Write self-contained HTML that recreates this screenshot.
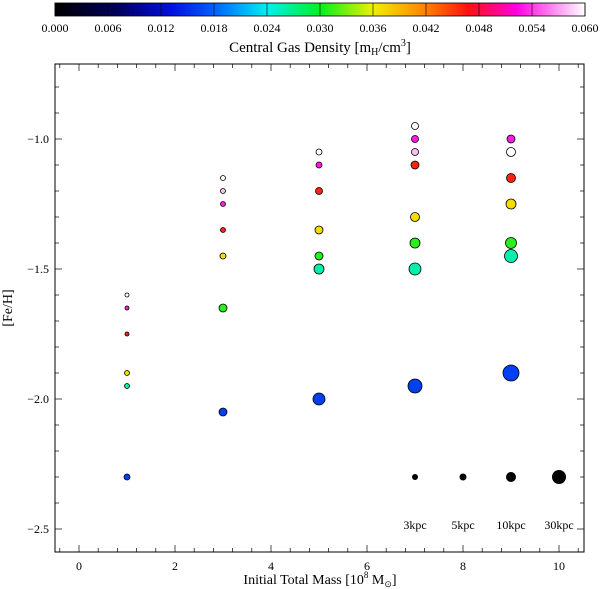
<!DOCTYPE html>
<html><head><meta charset="utf-8"><style>
body{margin:0;background:#fff;}
svg{display:block;font-family:"Liberation Serif",serif;}
</style></head><body>
<svg id="chart" width="600" height="589" viewBox="0 0 600 589" xmlns="http://www.w3.org/2000/svg">
<defs>
<linearGradient id="cg" x1="0" x2="1" y1="0" y2="0">
<stop offset="0" stop-color="#000000"/>
<stop offset="0.12" stop-color="#000060"/>
<stop offset="0.22" stop-color="#0010e0"/>
<stop offset="0.3" stop-color="#0060ff"/>
<stop offset="0.4" stop-color="#00f0f0"/>
<stop offset="0.5" stop-color="#00f020"/>
<stop offset="0.6" stop-color="#f0f000"/>
<stop offset="0.7" stop-color="#ff8000"/>
<stop offset="0.78" stop-color="#ff1010"/>
<stop offset="0.87" stop-color="#ff00e0"/>
<stop offset="1" stop-color="#ffffff"/>
</linearGradient>
</defs>
<g id="cbar"></g>
<g id="axes"></g>
<g id="marks"></g>
</svg>
<script>
const NS="http://www.w3.org/2000/svg";
const cbTicks=["0.000","0.006","0.012","0.018","0.024","0.030","0.036","0.042","0.048","0.054","0.060"];
const xTicks=[0,2,4,6,8,10];
const yTicks=[-1.0,-1.5,-2.0,-2.5];
const masses=[1,1,1,1,1,1, 3,3,3,3,3,3,3, 5,5,5,5,5,5,5, 7,7,7,7,7,7,7,7, 9,9,9,9,9,9,9];
const feh=[-1.6,-1.65,-1.75,-1.9,-1.95,-2.3, -1.15,-1.2,-1.25,-1.35,-1.45,-1.65,-2.05, -1.05,-1.1,-1.2,-1.35,-1.45,-1.5,-2.0, -0.95,-1.0,-1.05,-1.1,-1.3,-1.4,-1.5,-1.95, -1.0,-1.05,-1.15,-1.25,-1.4,-1.45,-1.9];
const density=[0.060,0.053,0.046,0.037,0.026,0.016, 0.060,0.058,0.053,0.046,0.037,0.031,0.016, 0.060,0.053,0.046,0.037,0.031,0.026,0.016, 0.060,0.053,0.058,0.046,0.037,0.031,0.026,0.016, 0.053,0.060,0.046,0.037,0.031,0.026,0.016];
const radii=[2,2,2,2.5,2.5,3, 2.5,2.5,2.5,2.5,3,4,4, 3,3,3.5,4,4,5,6, 3.5,3.5,3.5,4,4.5,5,6,7, 4,4.5,4.5,5,5.5,6.5,8];
const legendX=[7,8,9,10];
const legendR=[3,3.5,5,7];
const legendLabels=["3kpc","5kpc","10kpc","30kpc"];
const L=55,R=584,T=64,B=552;
const sx=v=>79+v*48;
const sy=v=>139+(-1.0-v)*260;
function mk(tag,attrs,parent){const e=document.createElementNS(NS,tag);for(const k in attrs)e.setAttribute(k,attrs[k]);parent.appendChild(e);return e;}
const stops=[[0,[0,0,0]],[0.12,[0,0,96]],[0.22,[0,16,224]],[0.3,[0,96,255]],[0.4,[0,240,240]],[0.5,[0,240,32]],[0.6,[240,240,0]],[0.7,[255,128,0]],[0.78,[255,16,16]],[0.87,[255,0,224]],[1,[255,255,255]]];
function cmap(d){const t=Math.max(0,Math.min(1,d/0.06));for(let i=1;i<stops.length;i++){if(t<=stops[i][0]){const a=stops[i-1],b=stops[i],f=(t-a[0])/(b[0]-a[0]);const c=a[1].map((v,j)=>Math.round(v+(b[1][j]-v)*f));return `rgb(${c})`;}}return "#fff";}
// colorbar
const cb=document.getElementById('cbar');
const cbL=55,cbR=585;
let r=mk('rect',{x:cbL,y:3,width:cbR-cbL,height:13,fill:'url(#cg)',stroke:'#000','stroke-width':0.8},cb);

cbTicks.forEach((t,i)=>{const x=cbL+(cbR-cbL)*i/(cbTicks.length-1);
 mk('line',{x1:x,x2:x,y1:3,y2:16,stroke:'#000','stroke-width':0.6},cb);
 const tx=mk('text',{x:x,y:32,'text-anchor':'middle','font-size':12},cb);tx.textContent=t;
 });
let ct=mk('text',{x:320,y:52,'text-anchor':'middle','font-size':15},cb);
ct.innerHTML='Central Gas Density [m<tspan font-size="10" dy="3">H</tspan><tspan dy="-3">/cm</tspan><tspan font-size="10" dy="-6">3</tspan><tspan dy="6">]</tspan>';

// axes
const ax=document.getElementById('axes');
mk('rect',{x:L,y:T,width:R-L,height:B-T,fill:'none',stroke:'#000','stroke-width':1},ax);
for(let k=-2;k<=27;k++){const v=k*0.4;const x=sx(v);if(x<=L||x>=R)continue;const maj=(k%5===0);const len=maj?7:4;
 mk('line',{x1:x,x2:x,y1:B,y2:B-len,stroke:'#000','stroke-width':0.7},ax);
 mk('line',{x1:x,x2:x,y1:T,y2:T+len,stroke:'#000','stroke-width':0.7},ax);}
for(let k=-27;k<=-7;k++){const v=k/10;const y=sy(v);if(y<=T||y>=B)continue;const maj=(k%5===0);const len=maj?7:4;
 mk('line',{x1:L,x2:L+len,y1:y,y2:y,stroke:'#000','stroke-width':0.7},ax);
 mk('line',{x1:R,x2:R-len,y1:y,y2:y,stroke:'#000','stroke-width':0.7},ax);}
xTicks.forEach(v=>{const t=mk('text',{x:sx(v),y:570,'text-anchor':'middle','font-size':12},ax);t.textContent=v;
 });
yTicks.forEach(v=>{const t=mk('text',{x:L-6,y:sy(v)+4,'text-anchor':'end','font-size':12},ax);t.textContent='\u2212'+Math.abs(v).toFixed(1);
 });
let xt=mk('text',{x:320,y:584,'text-anchor':'middle','font-size':14},ax);
xt.innerHTML='Initial Total Mass [10<tspan font-size="9" dy="-6">8</tspan><tspan dy="6"> M</tspan><tspan font-size="9" dy="3">\u2299</tspan><tspan dy="-3">]</tspan>';

let yt=mk('text',{x:0,y:0,'text-anchor':'middle','font-size':14,transform:`translate(12,${(T+B)/2}) rotate(-90)`},ax);
yt.textContent='[Fe/H]';

// points
const mg=document.getElementById('marks');
masses.forEach((m,i)=>{const c=mk('circle',{cx:sx(m),cy:sy(feh[i]),r:radii[i],fill:cmap(density[i]),stroke:'#000','stroke-width':0.8},mg);
 });
legendX.forEach((m,i)=>{const c=mk('circle',{cx:sx(m),cy:sy(-2.3),r:legendR[i],fill:'#000'},mg);
 
 const t=mk('text',{x:sx(m),y:529,'text-anchor':'middle','font-size':12},mg);t.textContent=legendLabels[i];
 });
</script>
</body></html>
